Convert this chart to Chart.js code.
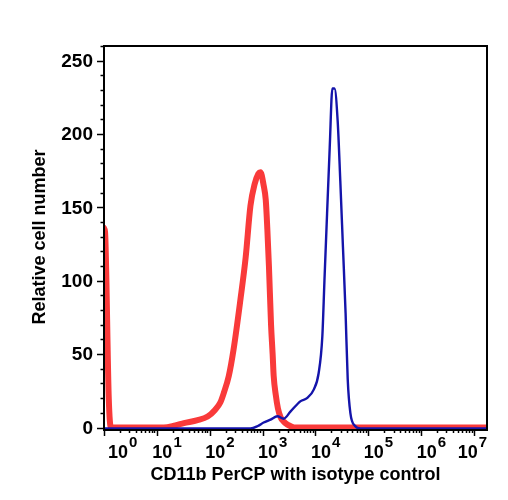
<!DOCTYPE html>
<html>
<head>
<meta charset="utf-8">
<script src="https://cdn.jsdelivr.net/npm/chart.js@4.4.0/dist/chart.umd.min.js"></script>
<style>
	html, body { margin: 0; padding: 0; background: #fff; }
	#wrap { position: relative; width: 508px; height: 500px; }
</style>
</head>
<body>
<div id="wrap"><canvas id="histo"></canvas></div>
<script>
const cd11bLog = [0, 2.77, 2.91, 3.02, 3.15, 3.28, 3.40, 3.53, 3.72, 3.84, 3.97, 4.06, 4.13, 4.17, 4.22, 4.27, 4.32, 4.36, 4.42, 4.47, 4.52, 4.57, 4.61, 4.66, 4.75, 4.85, 7.3];
const cd11bCount = [-0.7, -0.7, 1, 3.4, 5.4, 7.7, 6, 11, 18, 20, 26, 37, 62, 100, 146, 191, 231, 231, 209, 168, 123, 78, 33, 10, 1, -0.7, -0.7];

const isoLog = [0, 0.02, 0.09, 0.13, 1.13, 1.35, 1.51, 1.77, 1.96, 2.10, 2.20, 2.27, 2.36, 2.45, 2.58, 2.68, 2.77, 2.85, 2.92, 2.96, 3.02, 3.06, 3.09, 3.12, 3.16, 3.19, 3.21, 3.25, 3.29, 3.34, 3.40, 3.47, 3.60, 7.3];
const isoCount = [136, 133, 20, 0, 0, 1.5, 3, 5, 7.5, 12, 17, 24, 35, 53, 87, 116, 151, 166, 173, 174, 165, 155, 135, 110, 70, 50, 35, 22, 13, 7, 4, 2, 0, 0];

const decades = [0, 1, 2, 3, 4, 5, 6, 7];
const yMajor = [0, 50, 100, 150, 200, 250];

const FONT = "'Liberation Sans', Arial, Helvetica, sans-serif";

function toPoints(logs, counts) {
	return logs.map((e, i) => ({ x: Math.pow(10, e), y: counts[i] }));
}

// draws frame, ticks, tick labels (10 with superscript) and axis titles
const axesPlugin = {
	id: 'flowAxes',
	afterDatasetsDraw(chart) {
		const ctx = chart.ctx;
		const a = chart.chartArea;
		const xs = chart.scales.x;
		const ys = chart.scales.y;
		ctx.save();
		ctx.strokeStyle = '#000';
		ctx.fillStyle = '#000';

		// y ticks every 10, long on the 50s
		ctx.lineWidth = 1.5;
		for (let v = 0; v <= 260; v += 10) {
			const py = Math.round(ys.getPixelForValue(v)) + 0.5;
			const len = v % 50 === 0 ? 7 : 3.5;
			ctx.beginPath();
			ctx.moveTo(a.left - len, py);
			ctx.lineTo(a.left, py);
			ctx.stroke();
		}
		ctx.font = 'bold 19px ' + FONT;
		ctx.textAlign = 'right';
		ctx.textBaseline = 'middle';
		yMajor.forEach(v => {
			ctx.fillText(String(v), a.left - 11, ys.getPixelForValue(v) + 1);
		});

		// x ticks, log decades + minors
		decades.forEach(d => {
			for (let m = 1; m <= 9; m++) {
				const val = m * Math.pow(10, d);
				if (val < xs.min || val > xs.max) continue;
				const px = Math.round(xs.getPixelForValue(val)) + 0.5;
				const len = m === 1 ? 6 : 3;
				ctx.beginPath();
				ctx.moveTo(px, a.bottom);
				ctx.lineTo(px, a.bottom + len);
				ctx.stroke();
			}
		});
		ctx.textAlign = 'left';
		ctx.textBaseline = 'alphabetic';
		decades.forEach(d => {
			const px = xs.getPixelForValue(Math.pow(10, d));
			ctx.font = 'bold 18px ' + FONT;
			const wBase = ctx.measureText('10').width;
			ctx.font = 'bold 15px ' + FONT;
			const wExp = ctx.measureText(String(d)).width;
			const total = wBase + 1 + wExp;
			let x0 = px - 4.5;
			x0 = Math.max(x0, a.left + 4);
			x0 = Math.min(x0, a.right - total);
			ctx.font = 'bold 18px ' + FONT;
			ctx.fillText('10', x0, 458);
			ctx.font = 'bold 15px ' + FONT;
			ctx.fillText(String(d), x0 + wBase + 1, 447);
		});

		// frame
		ctx.lineWidth = 2;
		ctx.strokeRect(a.left, a.top, a.right - a.left, a.bottom - a.top);

		// axis titles
		ctx.font = 'bold 18px ' + FONT;
		ctx.textAlign = 'center';
		ctx.fillText('CD11b PerCP with isotype control', (a.left + a.right) / 2, 480);
		ctx.translate(40, 237);
		ctx.rotate(-Math.PI / 2);
		ctx.textBaseline = 'middle';
		ctx.fillText('Relative cell number', 0, 0);
		ctx.restore();
	}
};

new Chart(document.getElementById('histo'), {
	type: 'line',
	data: {
		datasets: [
			{
				label: 'CD11b PerCP',
				data: toPoints(cd11bLog, cd11bCount),
				borderColor: '#1414aa',
				borderWidth: 2.4,
				pointRadius: 0,
				cubicInterpolationMode: 'monotone',
				fill: false,
			},
			{
				label: 'Isotype control',
				data: toPoints(isoLog, isoCount),
				borderColor: '#f93a3a',
				borderWidth: 6,
				borderCapStyle: 'round',
				borderJoinStyle: 'round',
				pointRadius: 0,
				cubicInterpolationMode: 'monotone',
				fill: false,
			},
		],
	},
	options: {
		responsive: true,
		maintainAspectRatio: false,
		animation: false,
		events: [],
		layout: {
			padding: { left: 104, top: 46, right: 21, bottom: 70 },
		},
		plugins: {
			legend: { display: false },
			tooltip: { enabled: false },
		},
		scales: {
			x: {
				type: 'logarithmic',
				min: 1,
				max: Math.pow(10, 7.245),
				display: false,
			},
			y: {
				type: 'linear',
				min: -1.7,
				max: 260,
				display: false,
			},
		},
	},
	plugins: [axesPlugin],
});
</script>
</body>
</html>
